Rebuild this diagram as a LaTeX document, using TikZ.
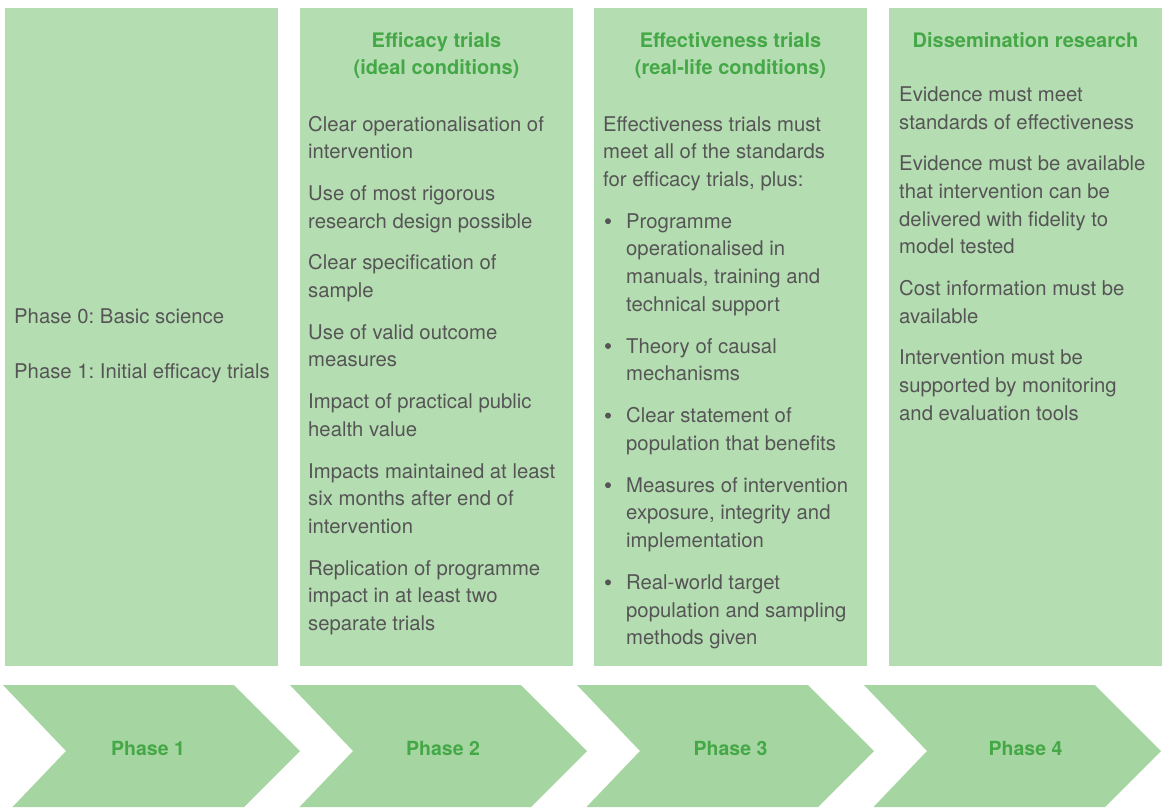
\documentclass[tikz,border=0pt]{standalone}
\usepackage{fontspec}
\setmainfont{TeX Gyre Heros}
\definecolor{panelfill}{HTML}{B5DDB2}
\definecolor{chevfill}{HTML}{A5D5A1}
\definecolor{titlegreen}{HTML}{45A847}
\definecolor{bodygrey}{HTML}{555555}
\frenchspacing
\begin{document}
\begin{tikzpicture}[x=1pt,y=-1pt,
  panel/.style={fill=panelfill},
  chev/.style={fill=chevfill},
  ttl/.style={text=titlegreen, font=\fontsize{20}{27}\selectfont\bfseries, inner sep=0, anchor=base},
  txt/.style={text=bodygrey, font=\fontsize{20.3}{27.6}\selectfont, inner sep=0, anchor=base west},
  phs/.style={text=titlegreen, font=\fontsize{19.5}{22}\selectfont\bfseries, inner sep=0, anchor=base},
  dot/.style={fill=bodygrey}
]
\useasboundingbox (0,0) rectangle (1162,807);

% panels
\fill[panel] (5,8) rectangle (278,666);
\fill[panel] (300,8) rectangle (573,666);
\fill[panel] (594,8) rectangle (867,666);
\fill[panel] (889,8) rectangle (1162,666);

% chevrons
\foreach \a in {3,290,577,864}{
  \fill[chev] (\a,685) -- (\a+231,685) -- (\a+297,751) -- (\a+241,807)
     -- (\a+9.5,807) -- (\a+63,751) -- cycle;
}
\node[phs] (ph1) at (148,755) {Phase 1};
\node[phs] (ph2) at (443,755) {Phase 2};
\node[phs] (ph3) at (730.5,755) {Phase 3};
\node[phs] (ph4) at (1025.5,755) {Phase 4};

% panel 1
\node[txt] (a1) at (14,323) {Phase 0: Basic science};
\node[txt] (a2) at (14,378) {Phase 1: Initial efficacy trials};

% panel 2
\node[ttl] (t2a) at (436.5,47) {Efficacy trials};
\node[ttl] (t2b) at (436.5,74) {(ideal conditions)};
\foreach \yy/\tt [count=\i] in {
  131/{Clear operationalisation of},
  158.6/{intervention},
  200.4/{Use of most rigorous},
  228/{research design possible},
  269.8/{Clear specification of},
  297.4/{sample},
  339.2/{Use of valid outcome},
  366.8/{measures},
  408.6/{Impact of practical public},
  436.2/{health value},
  478/{Impacts maintained at least},
  505.6/{six months after end of},
  533.2/{intervention},
  575/{Replication of programme},
  602.6/{impact in at least two},
  630.2/{separate trials}}{
  \node[txt] (b\i) at (308,\yy) {\tt};
}

% panel 3
\node[ttl] (t3a) at (730.5,47) {Effectiveness trials};
\node[ttl] (t3b) at (730.5,74) {(real-life conditions)};
\foreach \yy/\tt [count=\i] in {
  131/{Effectiveness trials must},
  158.6/{meet all of the standards},
  186.2/{for efficacy trials, plus:}}{
  \node[txt] (c\i) at (603,\yy) {\tt};
}
\foreach \yy/\tt [count=\i] in {
  228.2/{Programme},
  255.8/{operationalised in},
  283.4/{manuals, training and},
  311/{technical support},
  353/{Theory of causal},
  380.6/{mechanisms},
  422.6/{Clear statement of},
  450.2/{population that benefits},
  492.2/{Measures of intervention},
  519.8/{exposure, integrity and},
  547.4/{implementation},
  589.4/{Real-world target},
  617/{population and sampling},
  644.6/{methods given}}{
  \node[txt] (d\i) at (626,\yy) {\tt};
}
\foreach \yy in {228.2,353,422.6,492.2,589.4}{
  \fill[dot] (608,\yy-7) circle (3);
}

% panel 4
\node[ttl] (t4a) at (1025.5,47) {Dissemination research};
\foreach \yy/\tt [count=\i] in {
  101.5/{Evidence must meet},
  129.1/{standards of effectiveness},
  170.9/{Evidence must be available},
  198.5/{that intervention can be},
  226.1/{delivered with fidelity to},
  253.7/{model tested},
  295.5/{Cost information must be},
  323.1/{available},
  364.9/{Intervention must be},
  392.5/{supported by monitoring},
  420.1/{and evaluation tools}}{
  \node[txt] (e\i) at (899,\yy) {\tt};
}
\end{tikzpicture}
\end{document}
